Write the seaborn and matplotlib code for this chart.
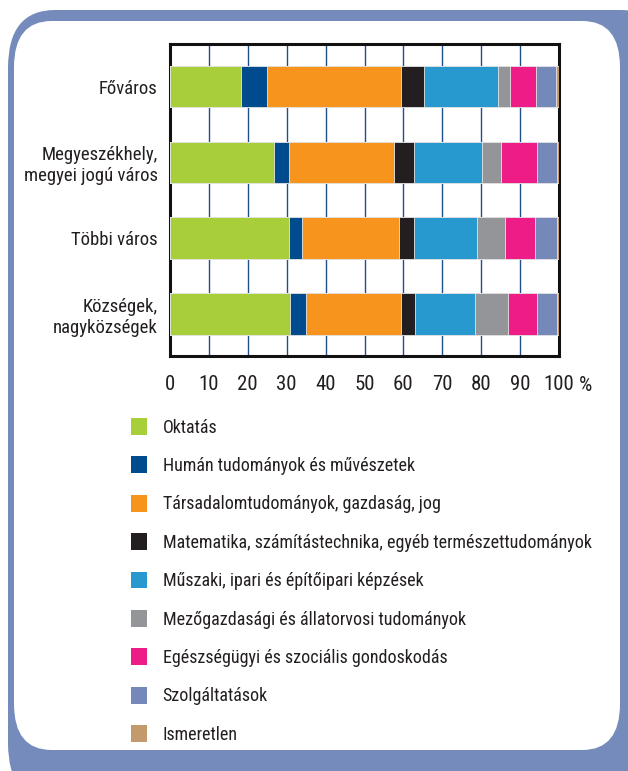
import pandas as pd
import numpy as np
import seaborn as sns
import matplotlib.pyplot as plt
from matplotlib import font_manager
from matplotlib.patches import FancyBboxPatch, Patch

# Adatok
telepulesek = ['Főváros', 'Megyeszékhely,\nmegyei jogú város', 'Többi város', 'Községek,\nnagyközségek']
kategoriak = ['Oktatás',
              'Humán tudományok és művészetek',
              'Társadalomtudományok, gazdaság, jog',
              'Matematika, számítástechnika, egyéb természettudományok',
              'Műszaki, ipari és építőipari képzések',
              'Mezőgazdasági és állatorvosi tudományok',
              'Egészségügyi és szociális gondoskodás',
              'Szolgáltatások',
              'Ismeretlen']
oktatas = [18.3, 26.8, 30.6, 30.9]
human = [6.6, 3.8, 3.3, 4.1]
tarsadalom = [34.5, 26.9, 25.0, 24.4]
matematika = [5.8, 5.1, 3.9, 3.7]
muszaki = [19.1, 17.6, 16.0, 15.3]
mezogazdasag = [3.0, 4.9, 7.3, 8.4]
egeszseg = [6.7, 9.3, 7.7, 7.5]
szolgaltatas = [5.2, 5.1, 5.7, 5.2]
ismeretlen = [0.8, 0.5, 0.5, 0.5]
szinek = ['#A8CF3A', '#004B8D', '#F7941E', '#231F20', '#2899CE',
          '#939598', '#ED1C87', '#7489B9', '#C39A6B']

sorozatok = [oktatas, human, tarsadalom, matematika, muszaki,
             mezogazdasag, egeszseg, szolgaltatas, ismeretlen]

# Betűtípus: keskeny, ha van
elerheto = {f.name for f in font_manager.fontManager.ttflist}
betu = 'DejaVu Sans'
for jelolt in ['Liberation Sans Narrow', 'DejaVu Sans Condensed', 'Roboto Condensed']:
    if jelolt in elerheto:
        betu = jelolt
        break

sns.set_style('white')
plt.rcParams['font.family'] = [betu, 'DejaVu Sans']
plt.rcParams['text.color'] = '#231F20'
plt.rcParams['xtick.color'] = '#231F20'
plt.rcParams['ytick.color'] = '#231F20'

fig = plt.figure(figsize=(6.28, 7.71), dpi=100)
W, H = 628, 771

# Keret (lekerekített kék doboz)
fig.patches.append(FancyBboxPatch((8 / W, -30 / H), 660 / W, (771 - 10 + 30) / H,
                                  boxstyle='round,pad=0,rounding_size=0.075',
                                  transform=fig.transFigure, facecolor='#758BBB',
                                  edgecolor='none', zorder=-2))
fig.patches.append(FancyBboxPatch((14 / W, (771 - 750) / H), 606 / W, (750 - 21) / H,
                                  boxstyle='round,pad=0,rounding_size=0.06',
                                  transform=fig.transFigure, facecolor='white',
                                  edgecolor='none', zorder=-1))

ax = fig.add_axes([170 / W, (771 - 356) / H, 389 / W, 312 / H])
ax.set_facecolor('none')

df = pd.DataFrame(dict(zip(kategoriak, sorozatok)), index=telepulesek)
kumulalt = df.cumsum(axis=1)

# Halmozott oszlopok: a leghosszabbtól visszafelé rajzolva
for kat, szin in reversed(list(zip(kategoriak, szinek))):
    sns.barplot(x=kumulalt[kat].values, y=telepulesek, orient='h', color=szin,
                saturation=1, width=0.55, linewidth=0.6, edgecolor='#E6E6E6',
                ax=ax, zorder=3)

ax.set_xlim(0, 100)
ax.set_ylim(3.556, -0.563)
ax.set_xticks(np.arange(0, 101, 10))
ax.set_xticklabels([str(v) for v in range(0, 101, 10)])
ax.xaxis.grid(True, color='#1F4E8C', linewidth=1.0, zorder=1)
ax.set_axisbelow(True)
ax.tick_params(axis='x', direction='out', length=9, width=3, color='#004B8D',
               pad=5, labelsize=15)
ax.tick_params(axis='y', length=0, pad=9, labelsize=13.5)
for lbl in ax.get_yticklabels():
    lbl.set_linespacing(1.2)
for s in ax.spines.values():
    s.set_visible(True)
    s.set_color('#111111')
    s.set_linewidth(2.2)
ax.set_xlabel('')
ax.set_ylabel('')
ax.text(1.052, -0.093, '%', transform=ax.transAxes, fontsize=15,
        ha='left', va='center')

# Jelmagyarázat
kezelok = [Patch(facecolor=c, edgecolor='none') for c in szinek]
fig.legend(kezelok, kategoriak, loc='upper left',
           bbox_to_anchor=(131 / W, (771 - 418) / H), frameon=False,
           fontsize=13, handlelength=0.9, handleheight=1.05,
           handletextpad=0.85, labelspacing=1.1, borderpad=0, borderaxespad=0)

fig.savefig('out.png', dpi=100)
